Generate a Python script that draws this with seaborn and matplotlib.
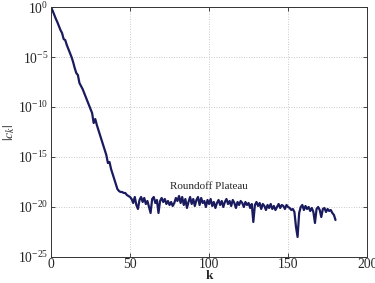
import numpy as np
import pandas as pd
import matplotlib
matplotlib.use("Agg")
import matplotlib.pyplot as plt
from matplotlib.ticker import LogFormatterMathtext, FixedLocator
import seaborn as sns

# log10 |c_k|, k = 0..180
decay_log = [
    0.0, -0.35, -0.75, -1.15, -1.5, -1.9, -2.3, -2.6, -3.2, -3.3,
    -3.8, -4.2, -4.6, -5.0, -5.5, -6.1, -6.6, -6.8, -7.6, -7.9,
    -8.2, -8.6, -9.0, -9.4, -9.8, -10.2, -10.6, -11.6, -11.2, -11.8,
    -12.3, -12.8, -13.3, -13.8, -14.3, -14.8, -15.6, -15.5, -16.2, -16.7,
    -17.2, -17.7, -18.2, -18.4, -18.5, -18.5, -18.6, -18.6, -18.8, -18.9,
    -19.0,
]
plateau_log = [
    -19.2, -19.6, -19.0, -19.8, -20.2, -19.3, -19.0, -19.5, -19.1, -19.7,
    -19.4, -20.0, -20.6, -19.2, -19.0, -19.6, -19.3, -20.6, -19.4, -19.1,
    -19.5, -19.2, -19.7, -19.4, -19.8, -19.5, -19.9, -19.6, -19.1, -19.4,
    -18.9, -19.6, -19.0, -19.8, -19.2, -20.1, -19.5, -19.0, -19.7, -19.2,
    -19.9, -19.3, -19.0, -19.8, -19.1, -19.6, -19.4, -20.0, -19.3, -19.7,
    -19.2, -19.9, -19.5, -20.1, -19.6, -19.3, -19.8, -19.4, -20.0, -19.5,
    -19.2, -19.7, -19.4, -19.9, -19.3, -19.6, -20.1, -19.5, -19.8, -19.4,
    -19.6, -20.0, -19.5, -19.8, -19.6, -20.1, -19.7, -21.5, -19.8, -19.5,
    -19.9, -19.6, -20.2, -19.7, -19.9, -20.3, -19.8, -20.1, -19.7, -20.2,
    -19.9, -20.3, -20.0, -19.7, -20.1, -19.8, -19.9, -20.2, -19.8, -20.0,
    -20.1, -20.3, -20.2, -20.5, -22.0, -23.0, -20.6, -20.0, -19.8, -20.3,
    -19.9, -20.2, -20.0, -20.4, -20.1, -20.5, -21.6, -20.2, -20.0, -20.3,
    -21.0, -20.2, -20.1, -20.5, -20.2, -20.4, -20.3, -20.6, -20.8, -21.3,
]
log_ck = decay_log + plateau_log
k = list(range(len(log_ck)))

x_ticks = [0, 50, 100, 150, 200]
y_ticks = [1e-25, 1e-20, 1e-15, 1e-10, 1e-5, 1e0]

df = pd.DataFrame({"k": k, "ck": 10.0 ** np.array(log_ck)})

sns.set_style("ticks")
plt.rcParams["font.family"] = ["Liberation Serif", "DejaVu Serif"]
plt.rcParams["mathtext.fontset"] = "stix"

fig = plt.figure(figsize=(3.75, 2.83), dpi=100)
ax = fig.add_axes([0.136, 0.092, 0.843, 0.883])

sns.lineplot(data=df, x="k", y="ck", ax=ax, color="#1a1a5e", linewidth=1.6)

ax.set_yscale("log")
ax.set_xlim(0, 200)
ax.set_ylim(1e-25, 1e0)
ax.set_xticks(x_ticks)
ax.yaxis.set_major_locator(FixedLocator(y_ticks))
ax.yaxis.set_major_formatter(LogFormatterMathtext())
ax.yaxis.set_minor_locator(FixedLocator([]))

ax.grid(True, linestyle=(0, (1, 2)), color="#b8b8b8", linewidth=0.6)
ax.tick_params(direction="in", length=3, width=0.6, labelsize=9.8,
               top=True, right=True, pad=2)
ax.tick_params(axis="x", pad=1)
for side in ax.spines.values():
    side.set_linewidth(0.7)
    side.set_color("#333333")

ax.set_xlabel("k", fontsize=9.5, fontweight="bold", labelpad=-0.8)
ax.set_ylabel("$|c_k|$", fontsize=10, labelpad=1)

ax.text(75, 10 ** -18.0, "Roundoff Plateau", fontsize=8, va="center", ha="left")

fig.savefig("out.png", dpi=100)
